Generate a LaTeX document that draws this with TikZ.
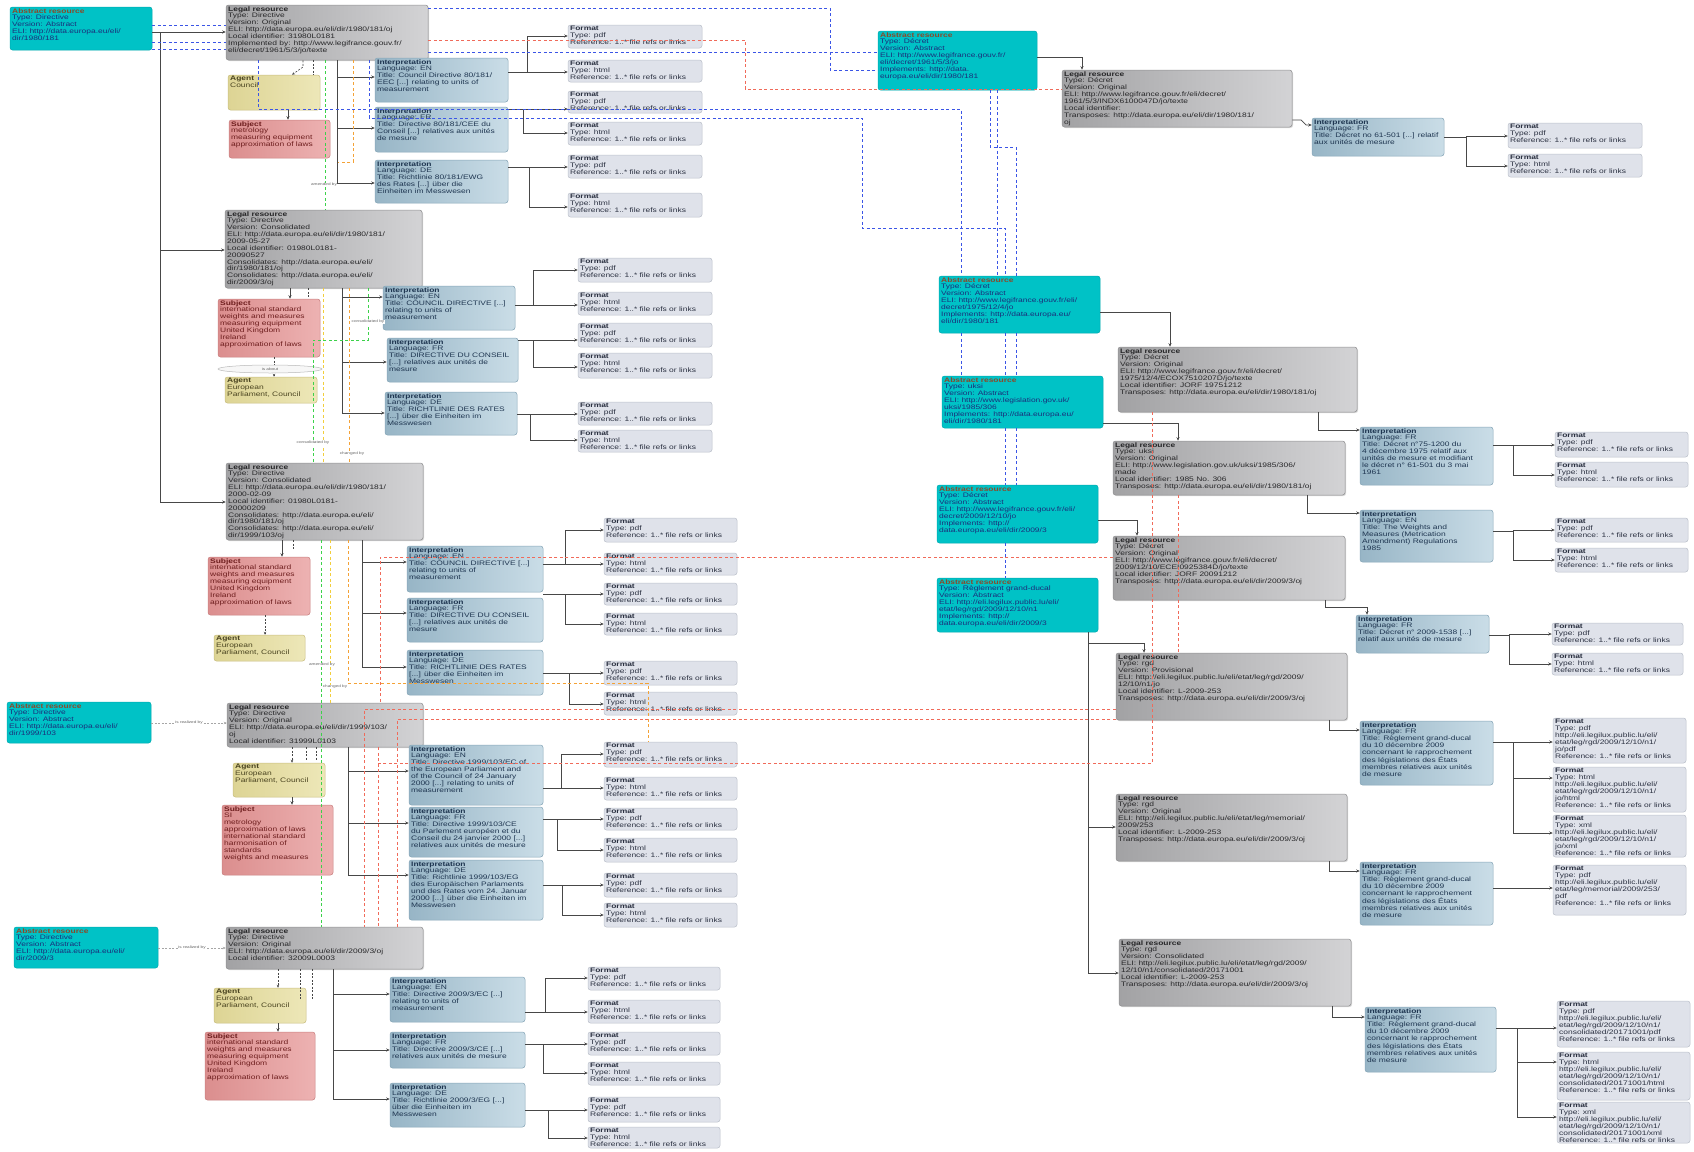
\documentclass[tikz,border=0pt]{standalone}
\usepackage{fontspec}
\setmainfont{Liberation Sans}[FakeStretch=1.3]
\usetikzlibrary{arrows.meta,fit,shadows,shapes.geometric}
\definecolor{cyA}{HTML}{00C2C6}
\definecolor{cyB}{HTML}{4CFAFA}
\definecolor{cyD}{HTML}{00AAB0}
\definecolor{legL}{HTML}{A2A2A4}
\definecolor{legR}{HTML}{D3D3D5}
\definecolor{legD}{HTML}{909092}
\definecolor{intL}{HTML}{97B5C6}
\definecolor{intR}{HTML}{CADDE7}
\definecolor{intD}{HTML}{86A6B8}
\definecolor{fmtF}{HTML}{DFE2EA}
\definecolor{fmtD}{HTML}{BCC1CB}
\definecolor{agL}{HTML}{DDD494}
\definecolor{agR}{HTML}{EDE7B8}
\definecolor{agD}{HTML}{C9BE80}
\definecolor{sbL}{HTML}{DB8E8E}
\definecolor{sbR}{HTML}{EDB2B2}
\definecolor{sbD}{HTML}{C98080}
\definecolor{absT}{HTML}{1B2E7A}
\definecolor{absTi}{HTML}{8A4A2A}
\definecolor{legT}{HTML}{262628}
\definecolor{intT}{HTML}{1E3550}
\definecolor{fmtT}{HTML}{2A3040}
\definecolor{agT}{HTML}{4A4420}
\definecolor{sbT}{HTML}{6E1E1E}
\definecolor{lineC}{HTML}{474747}
\definecolor{dBlue}{HTML}{3B55E6}
\definecolor{dRed}{HTML}{F06A5A}
\definecolor{dOrange}{HTML}{F4A236}
\definecolor{dYellow}{HTML}{F2CE3C}
\definecolor{dGreen}{HTML}{3CD24A}
\tikzset{
  bxbase/.style={inner sep=0pt, rounded corners=2.5pt, line width=0.5pt},
  absb/.style={bxbase, draw=cyD, left color=cyA, middle color=cyB, right color=cyA},
  legb/.style={bxbase, draw=legD, left color=legL, right color=legR,
    drop shadow={opacity=0.3, shadow xshift=1pt, shadow yshift=-1pt}},
  intb/.style={bxbase, draw=intD, left color=intL, right color=intR},
  fmtb/.style={bxbase, draw=fmtD, fill=fmtF},
  agb/.style={bxbase, draw=agD, left color=agL, right color=agR},
  sbb/.style={bxbase, draw=sbD, left color=sbL, right color=sbR},
  txt/.style={inner sep=0pt, align=left, anchor=north west, font=\fontsize{6.5}{6.85}\selectfont},
  abst/.style={text=absT}, legt/.style={text=legT}, intt/.style={text=intT},
  fmtt/.style={text=fmtT}, agt/.style={text=agT}, sbt/.style={text=sbT},
  con/.style={draw=lineC, line width=0.7pt},
  arr/.style={con, -{Stealth[length=3.5pt,width=3pt]}},
  dsh/.style={line width=0.65pt, dash pattern=on 3pt off 2.5pt},
  bdash/.style={dsh, draw=dBlue},
  rdash/.style={dsh, draw=dRed},
  odash/.style={dsh, draw=dOrange},
  ydash/.style={dsh, draw=dYellow},
  gdash/.style={dsh, draw=dGreen},
  kdash/.style={line width=0.6pt, draw=lineC, dash pattern=on 2pt off 1.5pt},
  kdasharr/.style={kdash, -{Stealth[length=3pt,width=2.6pt]}},
  greydash/.style={line width=0.6pt, draw=gray!70, dash pattern=on 2pt off 1.5pt, -{Stealth[length=3pt,width=2.6pt]}},
  lbl/.style={inner sep=0.5pt, font=\fontsize{3.6}{4}\selectfont, text=gray!80!black, fill=white}
}
\newcommand\bx[8]{%
  \node[#2, fit={(#4,#5) (#6,#7)}] (#1) {};
  \node[txt, #3] (#1t) at ([xshift=2.2pt, yshift=-1.4pt]#1.north west) {#8};}
\newcommand\fmt[6]{\bx{#1}{fmtb}{fmtt}{#2}{#3}{#4}{#5}{\textbf{Format}\\Type: #6\\Reference: 1..* file refs or links}}
\newcommand\absx[6]{\bx{#1}{absb}{abst}{#2}{#3}{#4}{#5}{\textcolor{absTi}{\textbf{Abstract resource}}\\#6}}
\newcommand\legx[6]{\bx{#1}{legb}{legt}{#2}{#3}{#4}{#5}{\textbf{Legal resource}\\#6}}
\newcommand\intx[6]{\bx{#1}{intb}{intt}{#2}{#3}{#4}{#5}{\textbf{Interpretation}\\#6}}
\newcommand\agx[6]{\bx{#1}{agb}{agt}{#2}{#3}{#4}{#5}{\textbf{Agent}\\#6}}
\newcommand\sbx[6]{\bx{#1}{sbb}{sbt}{#2}{#3}{#4}{#5}{\textbf{Subject}\\#6}}
\newcommand\fk[7]{%
  \draw[con] (#1.east|-0,#3) -- (#2,#3);
  \draw[arr] (#2,#3) |- (#4.west|-0,#5);
  \draw[arr] (#2,#3) |- (#6.west|-0,#7);}
\newcommand\fkk[9]{%
  \fk{#1}{#2}{#3}{#4}{#5}{#6}{#7}%
  \draw[arr] (#2,#3) |- (#8.west|-0,#9);}
\begin{document}
\begin{tikzpicture}[x=1pt,y=-1pt]
\fill[white] (0,0) rectangle (1694,1151);
\useasboundingbox (0,0) rectangle (1694,1151);
% ---------------- left column: directive 80/181 original
\absx{A1}{10}{7}{152}{50}{Type: Directive\\Version: Abstract\\ELI: http://data.europa.eu/eli/\\dir/1980/181}
\legx{L1}{226}{5}{428}{60}{Type: Directive\\Version: Original\\ELI: http://data.europa.eu/eli/dir/1980/181/oj\\Local identifier: 31980L0181\\Implemented by: http://www.legifrance.gouv.fr/\\eli/decret/1961/5/3/jo/texte}
\agx{Ag1}{228}{75}{320}{110}{Council}
\sbx{Sb1}{229}{120}{330}{158}{metrology\\measuring equipment\\approximation of laws}
\intx{I1}{375}{58}{508}{102}{Language: EN\\Title: Council Directive 80/181/\\EEC {[...]} relating to units of\\measurement}
\intx{I2}{375}{107}{508}{152}{Language: FR\\Title: Directive 80/181/CEE du\\Conseil {[...]} relatives aux unités\\de mesure}
\intx{I3}{375}{160}{508}{203}{Language: DE\\Title: Richtlinie 80/181/EWG\\des Rates {[...]} über die\\Einheiten im Messwesen}
\fmt{F1}{568}{25}{702}{48}{pdf}
\fmt{F2}{568}{60}{702}{82}{html}
\fmt{F3}{568}{91}{702}{113}{pdf}
\fmt{F4}{568}{122}{702}{145}{html}
\fmt{F5}{568}{155}{702}{178}{pdf}
\fmt{F6}{568}{193}{702}{217}{html}
% ---------------- consolidated 2009
\legx{L2}{225}{210}{422}{288}{Type: Directive\\Version: Consolidated\\ELI: http://data.europa.eu/eli/dir/1980/181/\\2009-05-27\\Local identifier: 01980L0181-\\20090527\\Consolidates: http://data.europa.eu/eli/\\dir/1980/181/oj\\Consolidates: http://data.europa.eu/eli/\\dir/2009/3/oj}
\sbx{Sb2}{218}{299}{320}{357}{international standard\\weights and measures\\measuring equipment\\United Kingdom\\Ireland\\approximation of laws}
\agx{Ag2}{225}{377}{317}{403}{European\\Parliament, Council}
\intx{I4}{383}{286}{515}{330}{Language: EN\\Title: COUNCIL DIRECTIVE {[...]}\\relating to units of\\measurement}
\intx{I5}{387}{338}{518}{382}{Language: FR\\Title: DIRECTIVE DU CONSEIL\\{[...]} relatives aux unités de\\mesure}
\intx{I6}{385}{392}{517}{435}{Language: DE\\Title: RICHTLINIE DES RATES\\{[...]} über die Einheiten im\\Messwesen}
\fmt{F7}{578}{258}{712}{282}{pdf}
\fmt{F8}{578}{292}{712}{315}{html}
\fmt{F9}{578}{323}{712}{347}{pdf}
\fmt{F10}{578}{353}{712}{378}{html}
\fmt{F11}{578}{402}{712}{425}{pdf}
\fmt{F12}{578}{430}{712}{452}{html}
% ---------------- consolidated 2000
\legx{L3}{226}{463}{423}{540}{Type: Directive\\Version: Consolidated\\ELI: http://data.europa.eu/eli/dir/1980/181/\\2000-02-09\\Local identifier: 01980L0181-\\20000209\\Consolidates: http://data.europa.eu/eli/\\dir/1980/181/oj\\Consolidates: http://data.europa.eu/eli/\\dir/1999/103/oj}
\sbx{Sb3}{208}{557}{310}{615}{international standard\\weights and measures\\measuring equipment\\United Kingdom\\Ireland\\approximation of laws}
\agx{Ag3}{214}{635}{305}{661}{European\\Parliament, Council}
\intx{I7}{407}{546}{543}{592}{Language: EN\\Title: COUNCIL DIRECTIVE {[...]}\\relating to units of\\measurement}
\intx{I8}{407}{598}{543}{642}{Language: FR\\Title: DIRECTIVE DU CONSEIL\\{[...]} relatives aux unités de\\mesure}
\intx{I9}{407}{650}{543}{695}{Language: DE\\Title: RICHTLINIE DES RATES\\{[...]} über die Einheiten im\\Messwesen}
\fmt{F13}{604}{518}{737}{542}{pdf}
\fmt{F14}{604}{553}{737}{575}{html}
\fmt{F15}{604}{583}{737}{605}{pdf}
\fmt{F16}{604}{613}{737}{635}{html}
\fmt{F17}{604}{661}{737}{685}{pdf}
\fmt{F18}{604}{692}{737}{715}{html}
% ---------------- directive 1999/103
\absx{A4}{7}{702}{151}{743}{Type: Directive\\Version: Abstract\\ELI: http://data.europa.eu/eli/\\dir/1999/103}
\legx{L4}{227}{703}{423}{747}{Type: Directive\\Version: Original\\ELI: http://data.europa.eu/eli/dir/1999/103/\\oj\\Local identifier: 31999L0103}
\agx{Ag4}{233}{763}{325}{797}{European\\Parliament, Council}
\sbx{Sb4}{222}{805}{333}{875}{SI\\metrology\\approximation of laws\\international standard\\harmonisation of\\standards\\weights and measures}
\intx{I10}{409}{745}{543}{805}{Language: EN\\Title: Directive 1999/103/EC of\\the European Parliament and\\of the Council of 24 January\\2000 {[...]} relating to units of\\measurement}
\intx{I11}{409}{807}{543}{857}{Language: FR\\Title: Directive 1999/103/CE\\du Parlement européen et du\\Conseil du 24 janvier 2000 {[...]}\\relatives aux unités de mesure}
\intx{I12}{409}{860}{543}{920}{Language: DE\\Title: Richtlinie 1999/103/EG\\des Europäischen Parlaments\\und des Rates vom 24. Januar\\2000 {[...]} über die Einheiten im\\Messwesen}
\fmt{F19}{604}{742}{737}{767}{pdf}
\fmt{F20}{604}{777}{737}{800}{html}
\fmt{F21}{604}{808}{737}{830}{pdf}
\fmt{F22}{604}{838}{737}{862}{html}
\fmt{F23}{604}{873}{737}{897}{pdf}
\fmt{F24}{604}{903}{737}{927}{html}
% ---------------- directive 2009/3
\absx{A5}{14}{927}{158}{968}{Type: Directive\\Version: Abstract\\ELI: http://data.europa.eu/eli/\\dir/2009/3}
\legx{L5}{226}{927}{423}{969}{Type: Directive\\Version: Original\\ELI: http://data.europa.eu/eli/dir/2009/3/oj\\Local identifier: 32009L0003}
\agx{Ag5}{214}{988}{306}{1023}{European\\Parliament, Council}
\sbx{Sb5}{205}{1032}{315}{1100}{international standard\\weights and measures\\measuring equipment\\United Kingdom\\Ireland\\approximation of laws}
\intx{I13}{390}{977}{525}{1022}{Language: EN\\Title: Directive 2009/3/EC {[...]}\\relating to units of\\measurement}
\intx{I14}{390}{1032}{525}{1068}{Language: FR\\Title: Directive 2009/3/CE {[...]}\\relatives aux unités de mesure}
\intx{I15}{390}{1083}{525}{1127}{Language: DE\\Title: Richtlinie 2009/3/EG {[...]}\\über die Einheiten im\\Messwesen}
\fmt{F25}{588}{967}{720}{990}{pdf}
\fmt{F26}{588}{1000}{720}{1023}{html}
\fmt{F27}{588}{1032}{720}{1055}{pdf}
\fmt{F28}{588}{1062}{720}{1085}{html}
\fmt{F29}{588}{1097}{720}{1122}{pdf}
\fmt{F30}{588}{1127}{720}{1148}{html}
% ---------------- right side
\absx{A2}{878}{31}{1037}{90}{Type: Décret\\Version: Abstract\\ELI: http://www.legifrance.gouv.fr/\\eli/decret/1961/5/3/jo\\Implements: http://data.\\europa.eu/eli/dir/1980/181}
\legx{L6}{1062}{70}{1292}{127}{Type: Décret\\Version: Original\\ELI: http://www.legifrance.gouv.fr/eli/decret/\\1961/5/3/INDX6100047D/jo/texte\\Local identifier:\\Transposes: http://data.europa.eu/eli/dir/1980/181/\\oj}
\intx{I16}{1312}{118}{1444}{156}{Language: FR\\Title: Décret no 61-501 {[...]} relatif\\aux unités de mesure}
\fmt{F31}{1508}{123}{1642}{148}{pdf}
\fmt{F32}{1508}{154}{1642}{177}{html}
\absx{A3}{939}{276}{1100}{333}{Type: Décret\\Version: Abstract\\ELI: http://www.legifrance.gouv.fr/eli/\\decret/1975/12/4/jo\\Implements: http://data.europa.eu/\\eli/dir/1980/181}
\legx{L7}{1118}{347}{1357}{412}{Type: Décret\\Version: Original\\ELI: http://www.legifrance.gouv.fr/eli/decret/\\1975/12/4/ECOX7510207D/jo/texte\\Local identifier: JORF 19751212\\Transposes: http://data.europa.eu/eli/dir/1980/181/oj}
\intx{I20}{1360}{427}{1493}{485}{Language: FR\\Title: Décret n°75-1200 du\\4 décembre 1975 relatif aux\\unités de mesure et modifiant\\le décret n° 61-501 du 3 mai\\1961}
\fmt{F40}{1555}{432}{1688}{457}{pdf}
\fmt{F41}{1555}{462}{1688}{487}{html}
\absx{A3b}{942}{376}{1103}{428}{Type: uksi\\Version: Abstract\\ELI: http://www.legislation.gov.uk/\\uksi/1985/306\\Implements: http://data.europa.eu/\\eli/dir/1980/181}
\legx{L8}{1113}{441}{1345}{495}{Type: uksi\\Version: Original\\ELI: http://www.legislation.gov.uk/uksi/1985/306/\\made\\Local identifier: 1985 No. 306\\Transposes: http://data.europa.eu/eli/dir/1980/181/oj}
\intx{I21}{1360}{510}{1493}{562}{Language: EN\\Title: The Weights and\\Measures (Metrication\\Amendment) Regulations\\1985}
\fmt{F42}{1555}{518}{1688}{542}{pdf}
\fmt{F43}{1555}{548}{1688}{572}{html}
\absx{A3c}{937}{485}{1098}{543}{Type: Décret\\Version: Abstract\\ELI: http://www.legifrance.gouv.fr/eli/\\decret/2009/12/10/jo\\Implements: http://\\data.europa.eu/eli/dir/2009/3}
\legx{L9}{1113}{536}{1345}{600}{Type: Décret\\Version: Original\\ELI: http://www.legifrance.gouv.fr/eli/decret/\\2009/12/10/ECEI0925384D/jo/texte\\Local identifier: JORF 20091212\\Transposes: http://data.europa.eu/eli/dir/2009/3/oj}
\intx{I22}{1356}{615}{1489}{653}{Language: FR\\Title: Décret n° 2009-1538 {[...]}\\relatif aux unités de mesure}
\fmt{F44}{1552}{623}{1683}{645}{pdf}
\fmt{F45}{1552}{653}{1683}{675}{html}
\absx{A3d}{937}{578}{1098}{632}{Type: Règlement grand-ducal\\Version: Abstract\\ELI: http://eli.legilux.public.lu/eli/\\etat/leg/rgd/2009/12/10/n1\\Implements: http://\\data.europa.eu/eli/dir/2009/3}
\legx{L10}{1116}{653}{1347}{720}{Type: rgd\\Version: Provisional\\ELI: http://eli.legilux.public.lu/eli/etat/leg/rgd/2009/\\12/10/n1/jo\\Local identifier: L-2009-253\\Transposes: http://data.europa.eu/eli/dir/2009/3/oj}
\intx{I17}{1360}{721}{1493}{785}{Language: FR\\Title: Règlement grand-ducal\\du 10 décembre 2009\\concernant le rapprochement\\des législations des États\\membres relatives aux unités\\de mesure}
\bx{F33}{fmtb}{fmtt}{1553}{718}{1686}{763}{\textbf{Format}\\Type: pdf\\http://eli.legilux.public.lu/eli/\\etat/leg/rgd/2009/12/10/n1/\\jo/pdf\\Reference: 1..* file refs or links}
\bx{F34}{fmtb}{fmtt}{1553}{767}{1686}{812}{\textbf{Format}\\Type: html\\http://eli.legilux.public.lu/eli/\\etat/leg/rgd/2009/12/10/n1/\\jo/html\\Reference: 1..* file refs or links}
\bx{F35}{fmtb}{fmtt}{1553}{815}{1686}{857}{\textbf{Format}\\Type: xml\\http://eli.legilux.public.lu/eli/\\etat/leg/rgd/2009/12/10/n1/\\jo/xml\\Reference: 1..* file refs or links}
\legx{L11}{1116}{794}{1347}{861}{Type: rgd\\Version: Original\\ELI: http://eli.legilux.public.lu/eli/etat/leg/memorial/\\2009/253\\Local identifier: L-2009-253\\Transposes: http://data.europa.eu/eli/dir/2009/3/oj}
\intx{I18}{1360}{862}{1493}{925}{Language: FR\\Title: Règlement grand-ducal\\du 10 décembre 2009\\concernant le rapprochement\\des législations des États\\membres relatives aux unités\\de mesure}
\bx{F36}{fmtb}{fmtt}{1553}{865}{1686}{915}{\textbf{Format}\\Type: pdf\\http://eli.legilux.public.lu/eli/\\etat/leg/memorial/2009/253/\\pdf\\Reference: 1..* file refs or links}
\legx{L12}{1119}{939}{1351}{1006}{Type: rgd\\Version: Consolidated\\ELI: http://eli.legilux.public.lu/eli/etat/leg/rgd/2009/\\12/10/n1/consolidated/20171001\\Local identifier: L-2009-253\\Transposes: http://data.europa.eu/eli/dir/2009/3/oj}
\intx{I19}{1365}{1007}{1496}{1072}{Language: FR\\Title: Règlement grand-ducal\\du 10 décembre 2009\\concernant le rapprochement\\des législations des États\\membres relatives aux unités\\de mesure}
\bx{F37}{fmtb}{fmtt}{1557}{1001}{1690}{1047}{\textbf{Format}\\Type: pdf\\http://eli.legilux.public.lu/eli/\\etat/leg/rgd/2009/12/10/n1/\\consolidated/20171001/pdf\\Reference: 1..* file refs or links}
\bx{F38}{fmtb}{fmtt}{1557}{1052}{1690}{1100}{\textbf{Format}\\Type: html\\http://eli.legilux.public.lu/eli/\\etat/leg/rgd/2009/12/10/n1/\\consolidated/20171001/html\\Reference: 1..* file refs or links}
\bx{F39}{fmtb}{fmtt}{1557}{1102}{1690}{1143}{\textbf{Format}\\Type: xml\\http://eli.legilux.public.lu/eli/\\etat/leg/rgd/2009/12/10/n1/\\consolidated/20171001/xml\\Reference: 1..* file refs or links}
% ---------------- solid connectors, left
\draw[arr] (A1.east|-0,32) -- (L1.west|-0,32);
\draw[con] (160,32) -- (160,502);
\draw[arr] (160,250) -- (L2.west|-0,250);
\draw[arr] (160,502) -- (L3.west|-0,502);
\draw[con] (L1.south-|337,0) -- (337,183);
\draw[arr] (337,77) -- (I1.west|-0,77);
\draw[arr] (337,128) -- (I2.west|-0,128);
\draw[arr] (337,183) -- (I3.west|-0,183);
\fk{I1}{527}{72}{F1}{36}{F2}{72}
\fk{I2}{523}{109}{F3}{109}{F4}{133}
\fk{I3}{529}{167}{F5}{167}{F6}{207}
\draw[con] (L2.south-|342,0) -- (342,413);
\draw[arr] (342,297) -- (I4.west|-0,297);
\draw[arr] (342,362) -- (I5.west|-0,362);
\draw[arr] (342,413) -- (I6.west|-0,413);
\fk{I4}{533}{305}{F7}{270}{F8}{305}
\fk{I5}{533}{340}{F9}{340}{F10}{367}
\fk{I6}{530}{414}{F11}{414}{F12}{440}
\draw[con] (L3.south-|362,0) -- (362,667);
\draw[arr] (362,562) -- (I7.west|-0,562);
\draw[arr] (362,613) -- (I8.west|-0,613);
\draw[arr] (362,667) -- (I9.west|-0,667);
\fk{I7}{565}{564}{F13}{530}{F14}{564}
\fk{I8}{565}{594}{F15}{594}{F16}{624}
\fk{I9}{569}{673}{F17}{673}{F18}{704}
\draw[con] (L4.south-|348,0) -- (348,875);
\draw[arr] (348,771) -- (I10.west|-0,771);
\draw[arr] (348,823) -- (I11.west|-0,823);
\draw[arr] (348,875) -- (I12.west|-0,875);
\fk{I10}{561}{788}{F19}{754}{F20}{788}
\fk{I11}{557}{819}{F21}{819}{F22}{850}
\fk{I12}{562}{885}{F23}{885}{F24}{915}
\draw[con] (L5.south-|333,0) -- (333,1099);
\draw[arr] (333,994) -- (I13.west|-0,994);
\draw[arr] (333,1050) -- (I14.west|-0,1050);
\draw[arr] (333,1099) -- (I15.west|-0,1099);
\fk{I13}{545}{1012}{F25}{978}{F26}{1012}
\fk{I14}{543}{1044}{F27}{1044}{F28}{1073}
\fk{I15}{548}{1110}{F29}{1110}{F30}{1138}
% agents / subjects
\draw[kdasharr] (L1.south-|303,0) -- (303,67) -- (Ag1.north-|292,0);
\draw[kdash] (L1.south-|313,0) -- (Ag1.north-|313,0);
\draw[arr] (Ag1.south-|288,0) -- (Sb1.north-|288,0);
\draw[arr] (L2.south-|290,0) -- (Sb2.north-|290,0);
\draw[kdash] (L2.south-|308,0) -- (Sb2.north-|308,0);
\draw[kdasharr] (Sb2.south-|274,0) -- (Ag2.north-|274,0);
\node[ellipse, draw=gray!55, fill=gray!6, line width=0.5pt, minimum width=104pt, minimum height=8pt, inner sep=0pt, font=\fontsize{3.6}{4}\selectfont, text=gray!80!black] (el1) at (270,369) {is about};
\draw[arr] (L3.south-|282,0) -- (Sb3.north-|282,0);
\draw[kdash] (L3.south-|293,0) -- (293,550);
\draw[kdasharr] (Sb3.south-|265,0) -- (Ag3.north-|265,0);
\draw[kdasharr] (L4.south-|292,0) -- (Ag4.north-|292,0);
\draw[kdash] (L4.south-|306,0) -- (306,760);
\draw[kdash] (L4.south-|316,0) -- (316,760);
\draw[arr] (Ag4.south-|292,0) -- (Sb4.north-|292,0);
\draw[kdasharr] (L5.south-|278,0) -- (Ag5.north-|278,0);
\draw[kdash] (L5.south-|300,0) -- (300,1000);
\draw[kdash] (L5.south-|312,0) -- (312,1000);
\draw[arr] (Ag5.south-|278,0) -- (Sb5.north-|278,0);
\draw[greydash] (A4.east|-0,723) -- node[lbl] {is realized by} (L4.west|-0,723);
\draw[greydash] (A5.east|-0,948) -- node[lbl] {is realized by} (L5.west|-0,948);
% ---------------- solid connectors, right
\draw[arr] (A2.east|-0,57) -| (L6.north-|1082,0);
\draw[arr] (L6.east|-0,120) -- (1301,120) -- (1306,125) -- (I16.west|-0,125);
\fk{I16}{1466}{137}{F31}{136}{F32}{166}
\draw[arr] (A3.east|-0,312) -| (L7.north-|1170,0);
\draw[arr] (L7.south-|1318,0) |- (I20.west|-0,430);
\fk{I20}{1513}{445}{F40}{445}{F41}{475}
\draw[arr] (A3b.east|-0,423) -| (L8.north-|1178,0);
\draw[arr] (L8.south-|1307,0) |- (I21.west|-0,513);
\fk{I21}{1513}{531}{F42}{530}{F43}{560}
\draw[arr] (A3c.east|-0,520) -| (L9.north-|1137,0);
\draw[arr] (L9.south-|1325,0) -- (1325,607) -| (I22.north-|1367,0);
\fk{I22}{1509}{635}{F44}{634}{F45}{664}
\draw[con] (A3d.south-|1088,0) -- (1088,973);
\draw[arr] (1088,643) -| (L10.north-|1144,0);
\draw[arr] (1088,827) -- (L11.west|-0,827);
\draw[arr] (1088,973) -- (L12.west|-0,973);
\draw[arr] (L10.south-|1329,0) |- (I17.west|-0,730);
\draw[arr] (L11.south-|1329,0) |- (I18.west|-0,871);
\draw[arr] (L12.south-|1332,0) |- (I19.west|-0,1017);
\fkk{I17}{1513}{742}{F33}{742}{F34}{778}{F35}{833}
\draw[arr] (I18.east|-0,888) -- (F36.west|-0,888);
\fkk{I19}{1517}{1028}{F37}{1028}{F38}{1062}{F39}{1117}
% ---------------- coloured dashed relations
\draw[bdash] (A1.east|-0,25) -- (L1.west|-0,25);
\draw[bdash] (A1.east|-0,42) -- (L1.west|-0,42);
\draw[bdash] (A1.east|-0,49) -- (L1.west|-0,49);
\draw[bdash] (L1.east|-0,8) -- (830,8) -- (830,70) -- (A2.west|-0,70);
\draw[bdash] (L1.east|-0,52) -- (A2.west|-0,52);
\draw[bdash] (L1.south-|258,0) -- (258,109) -- (961,109) -- (A3.north-|961,0);
\draw[bdash] (L1.south-|369,0) -- (369,118) -- (862,118) -- (862,228) -- (1005,228) -- (A3.north-|1005,0);
\draw[bdash] (A2.south-|990,0) -- (990,147) -- (1016,147) -- (A3.north-|1016,0);
\draw[bdash] (A2.south-|997,0) -- (A3.north-|997,0);
\draw[bdash] (A3.south-|961,0) -- (A3b.north-|961,0);
\draw[bdash] (A3.south-|1005,0) -- (A3b.north-|1005,0);
\draw[bdash] (A3.south-|1016,0) -- (A3b.north-|1016,0);
\draw[bdash] (A3b.south-|1005,0) -- (A3c.north-|1005,0);
\draw[bdash] (A3b.south-|1016,0) -- (A3c.north-|1016,0);
\draw[bdash] (A3c.south-|1005,0) -- (A3d.north-|1005,0);
\draw[rdash] (L1.east|-0,40) -- (745,40) -- (745,89) -- (L6.west|-0,89);
\draw[rdash] (L9.west|-0,557) -- (380,557) -- (L4.north-|380,0);
\draw[rdash] (L4.south-|378,0) -- (L5.north-|378,0);
\draw[rdash] (L10.west|-0,709) -- (364,709) -- (L5.north-|364,0);
\draw[rdash] (L10.west|-0,719) -- (397,719) -- (L5.north-|397,0);
\draw[rdash] (L7.south-|1152,0) -- (1152,763) -- (378,763);
\draw[rdash] (L8.south-|1178,0) -- (L10.north-|1178,0);
\draw[gdash] (L1.south-|325,0) -- (L2.north-|325,0);
\draw[odash] (L1.south-|353,0) -- (353,162) -- (338,162);
\draw[ydash] (L2.south-|323,0) -- (L3.north-|323,0);
\draw[odash] (L2.south-|349,0) -- (L3.north-|349,0);
\draw[gdash] (L2.south-|368,0) -- (368,340) -- (313,340) -- (L3.north-|313,0);
\draw[gdash] (L3.south-|321,0) -- (L5.north-|321,0);
\draw[ydash] (L3.south-|330,0) -- (L4.north-|330,0);
\draw[odash] (L3.south-|348,0) -- (348,683) -- (648,683) -- (F19.north-|648,0);
% small connector labels
\node[lbl] (lb1) at (324,185) {amended by};
\node[lbl] (lb2) at (368,322) {consolidated by};
\node[lbl] (lb3) at (313,443) {consolidated by};
\node[lbl] (lb4) at (352,454) {changed by};
\node[lbl] (lb5) at (322,665) {amended by};
\node[lbl] (lb6) at (335,687) {changed by};
\end{tikzpicture}
\end{document}
